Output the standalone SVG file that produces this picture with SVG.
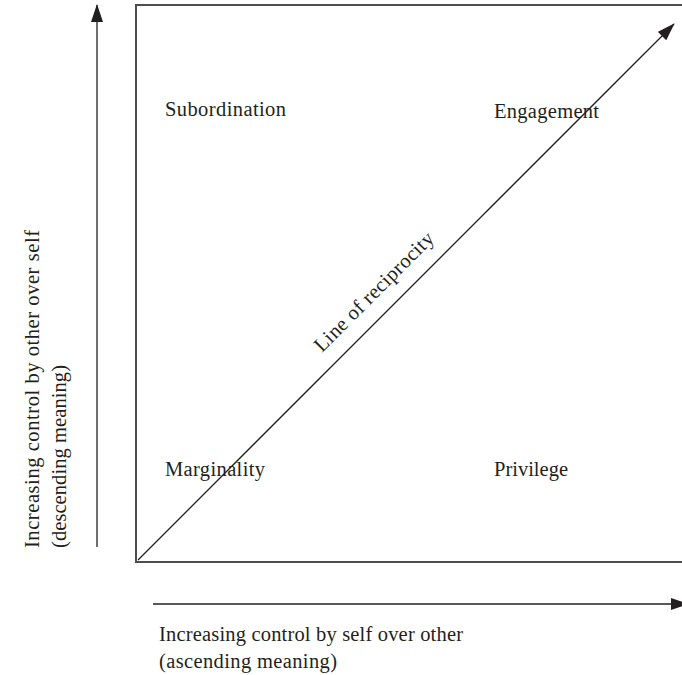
<svg xmlns="http://www.w3.org/2000/svg" width="682" height="675" viewBox="0 0 682 675">
<style>
text{font-family:"Liberation Serif","Times New Roman",serif;font-size:20.5px;fill:#231f20}
.box{fill:none;stroke:#4d4d4d;stroke-width:2}
.arr{stroke:#231f20;stroke-width:1.3;fill:none;marker-end:url(#ah)}
</style>
<defs>
<marker id="ah" markerWidth="18" markerHeight="12" refX="17" refY="6" orient="auto" markerUnits="userSpaceOnUse">
<path d="M0,0 L18,6 L0,12 Z" fill="#231f20"/>
</marker>
</defs>
<g id="frame"><path class="box" d="M683,5 H136 V562 H683"/></g>
<g id="connectors">
<line class="arr" x1="97" y1="547" x2="97" y2="5"/>
<line class="arr" x1="138" y1="560" x2="674" y2="24"/>
<line class="arr" x1="153" y1="604" x2="688" y2="604"/>
</g>
<g id="subordination"><text x="165" y="116" textLength="121">Subordination</text></g>
<g id="engagement"><text x="494" y="118" textLength="105">Engagement</text></g>
<g id="marginality"><text x="165" y="476" textLength="100">Marginality</text></g>
<g id="privilege"><text x="494" y="476" textLength="74">Privilege</text></g>
<g id="reciprocity"><text transform="translate(322,353) rotate(-45)" textLength="160">Line of reciprocity</text></g>
<g id="yaxis-label"><text transform="translate(39,548) rotate(-90)" textLength="318">Increasing control by other over self</text><text transform="translate(66,548) rotate(-90)" textLength="183">(descending meaning)</text></g>
<g id="xaxis-label"><text x="159" y="641" textLength="304">Increasing control by self over other</text><text x="159" y="668" textLength="178">(ascending meaning)</text></g>
</svg>
